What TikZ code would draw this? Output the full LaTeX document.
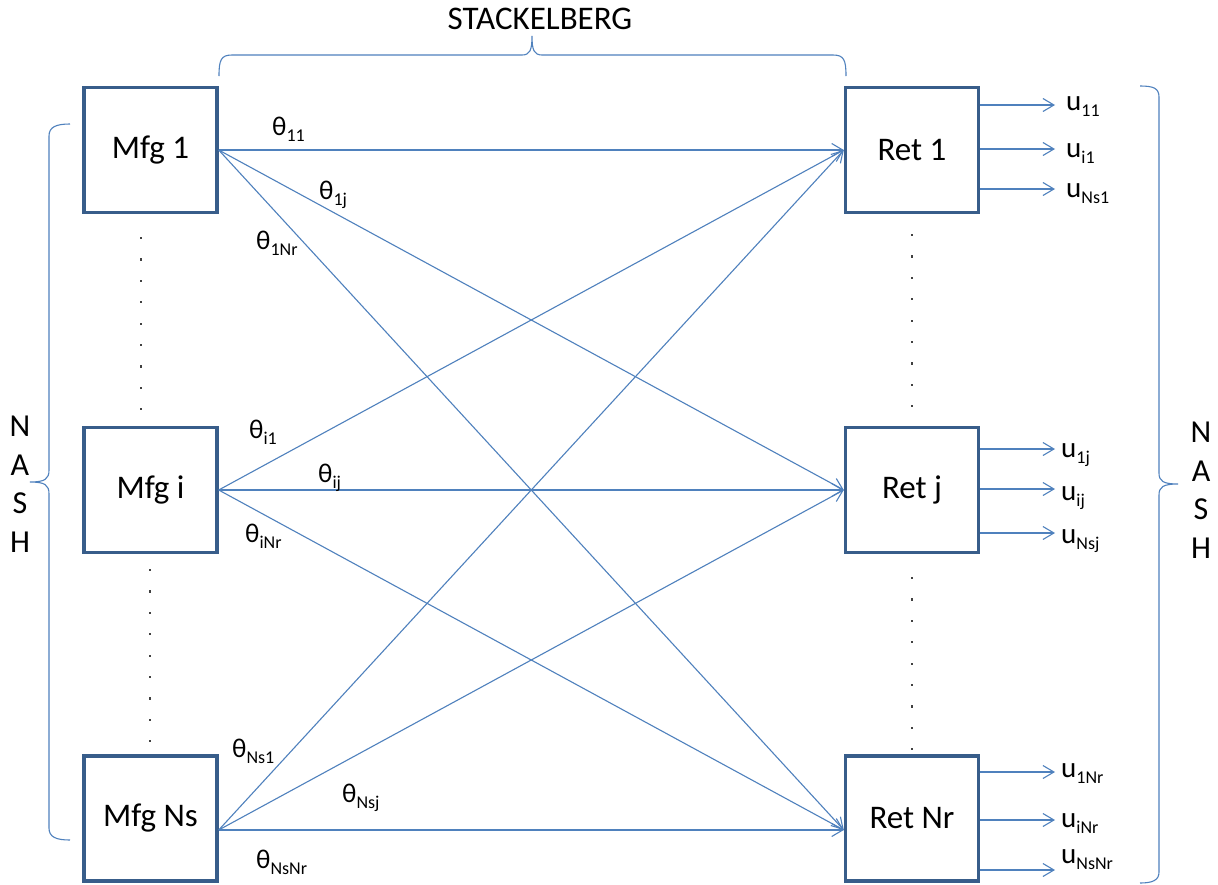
\documentclass[tikz,border=0pt]{standalone}
\usepackage{fontspec}
\setmainfont{Carlito}
\usetikzlibrary{arrows.meta}
\definecolor{boxblue}{HTML}{385D8A}
\definecolor{linkblue}{HTML}{4F81BD}
\definecolor{dotc}{HTML}{404040}
\newcommand\fsz[1]{\fontsize{#1}{#1}\selectfont}
\newcommand\sublab[2]{#1\raisebox{-6pt}{\fsz{18}#2}}
\begin{document}
\begin{tikzpicture}[x=1pt,y=-1pt,
  agent/.style={draw=boxblue, line width=3.4pt, fill=white, minimum width=133pt, minimum height=125pt, inner sep=0pt, font=\fsz{33}},
  link/.style={draw=linkblue, line width=1.1pt, -{Straight Barb[length=11pt,width=13pt,line width=1.1pt]}},
  bracec/.style={draw=linkblue, line width=1.1pt},
  lab/.style={anchor=base west, inner sep=0pt, font=\fsz{27}},
  ulab/.style={anchor=base west, inner sep=0pt, font=\fsz{29}},
  big/.style={inner sep=0pt, font=\fsz{32}}]
\useasboundingbox (0,0) rectangle (1218,884);
\fill[white] (0,0) rectangle (1218,884);

% boxes
\node[agent] (m1) at (150.5,150) {Mfg 1};
\node[agent] (mi) at (150.5,490) {Mfg i};
\node[agent] (mNs) at (150.5,818.5) {Mfg Ns};
\node[agent] (r1) at (912,150) {Ret 1};
\node[agent] (rj) at (912,490) {Ret j};
\node[agent] (rNr) at (912,818.5) {Ret Nr};

\coordinate (mNsp) at (mNs.east |- 0,830);
\coordinate (rNrp) at (rNr.west |- 0,830);

% links
\draw[link] (m1.east) -- (r1.west);
\draw[link] (m1.east) -- (rj.west);
\draw[link] (m1.east) -- (rNrp);
\draw[link] (mi.east) -- (r1.west);
\draw[link] (mi.east) -- (rj.west);
\draw[link] (mi.east) -- (rNrp);
\draw[link] (mNsp) -- (r1.west);
\draw[link] (mNsp) -- (rj.west);
\draw[link] (mNsp) -- (rNrp);

% outputs
\foreach \b/\n/\y in {r1/a/105,r1/b/149,r1/c/189,rj/d/449,rj/e/489,rj/f/533,rNr/g/772,rNr/h/820,rNr/k/870}{
  \coordinate (o\n) at (1055,\y);
  \draw[link] (\b.east |- o\n) -- (o\n);
}

% theta labels
\node[lab] (t11) at (272,135) {\sublab{θ}{11}};
\node[lab] (t1j) at (319,199) {\sublab{θ}{1j}};
\node[lab] (t1Nr) at (256,249) {\sublab{θ}{1Nr}};
\node[lab] (ti1) at (249,438) {\sublab{θ}{i1}};
\node[lab] (tij) at (318,482) {\sublab{θ}{ij}};
\node[lab] (tiNr) at (245,542) {\sublab{θ}{iNr}};
\node[lab] (tNs1) at (232,757) {\sublab{θ}{Ns1}};
\node[lab] (tNsj) at (342,802) {\sublab{θ}{Nsj}};
\node[lab] (tNsNr) at (256,868) {\sublab{θ}{NsNr}};

% u labels
\node[ulab] (u11) at (1066,110) {\sublab{u}{11}};
\node[ulab] (ui1) at (1066,157) {\sublab{u}{i1}};
\node[ulab] (uNs1) at (1066,197) {\sublab{u}{Ns1}};
\node[ulab] (u1j) at (1061,457) {\sublab{u}{1j}};
\node[ulab] (uij) at (1061,500) {\sublab{u}{ij}};
\node[ulab] (uNsj) at (1061,543) {\sublab{u}{Nsj}};
\node[ulab] (u1Nr) at (1061,777) {\sublab{u}{1Nr}};
\node[ulab] (uiNr) at (1061,827) {\sublab{u}{iNr}};
\node[ulab] (uNsNr) at (1061,863) {\sublab{u}{NsNr}};

% dots
\foreach \k in {0,...,8}{
  \fill[dotc] (140,{237+21.4*\k}) rectangle ++(2.2,2.2);
  \fill[dotc] (149,{569+21.4*\k}) rectangle ++(2.2,2.2);
  \fill[dotc] (911,{234+21.4*\k}) rectangle ++(2.2,2.2);
  \fill[dotc] (911,{577+21.4*\k}) rectangle ++(2.2,2.2);
}

% braces
\draw[bracec] (219,76) .. controls (219,60) and (221,55) .. (232,55) -- (522,55)
  .. controls (530,55) and (532,50) .. (532,36)
  .. controls (532,50) and (534,55) .. (542,55) -- (833,55)
  .. controls (844,55) and (846,60) .. (846,76);
\draw[bracec] (70,124) .. controls (56,124) and (49,127) .. (49,136) -- (49,470)
  .. controls (49,479) and (45,482) .. (30,482)
  .. controls (45,482) and (49,485) .. (49,494) -- (49,828)
  .. controls (49,837) and (56,840) .. (70,840);
\draw[bracec] (1140,86) .. controls (1153,86) and (1159,88) .. (1159,97) -- (1159,473)
  .. controls (1159,481) and (1163,484) .. (1178,484)
  .. controls (1163,484) and (1159,487) .. (1159,495) -- (1159,872)
  .. controls (1159,880) and (1153,883) .. (1140,883);

% texts
\node[inner sep=0pt, font=\fsz{33}] (stk) at (540,19) {STACKELBERG};
\node[big, align=center, font=\fontsize{32}{38.5}\selectfont] (nashl) at (20,484) {N\\A\\S\\H};
\node[big, align=center, font=\fontsize{32}{38.5}\selectfont] (nashr) at (1201,490) {N\\A\\S\\H};
\end{tikzpicture}
\end{document}
